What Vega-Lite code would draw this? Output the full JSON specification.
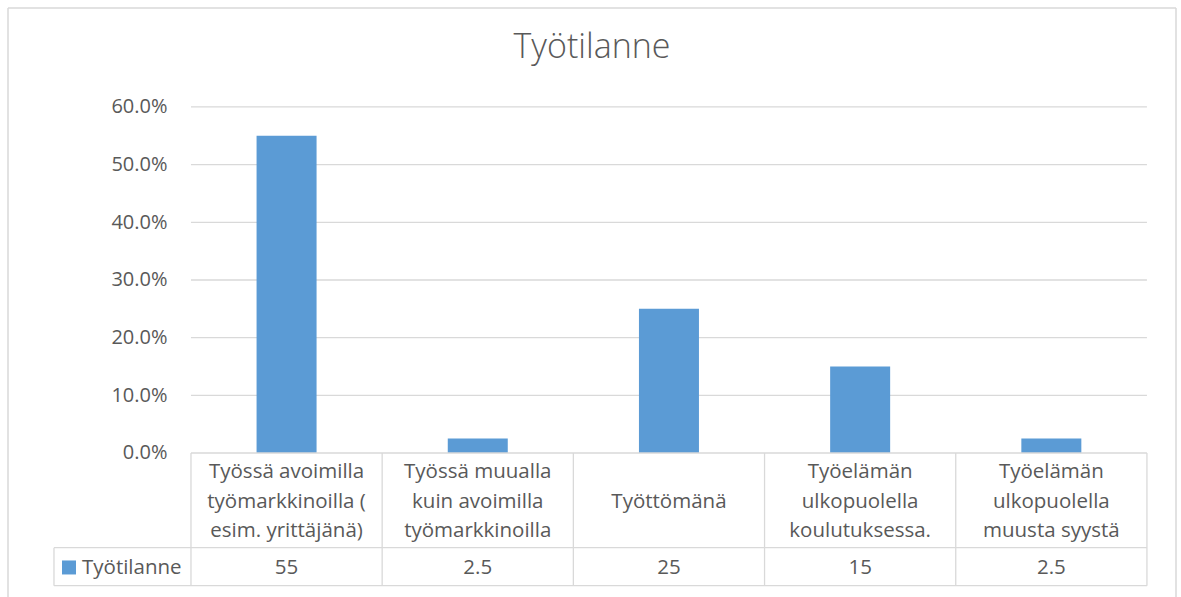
{
  "$schema": "https://vega.github.io/schema/vega-lite/v6.json",
  "width": 1168,
  "height": 589,
  "autosize": {"type": "none"},
  "padding": {"left": 8, "top": 8, "right": 5, "bottom": 0},
  "background": "white",
  "config": {"view": {"stroke": null}, "font": "Open Sans", "text": {"font": "Open Sans"}},
  "title": {"text": "Työtilanne", "offset": -85, "baseline": "alphabetic", "fontSize": 34, "fontWeight": 300, "color": "#595959", "anchor": "middle", "font": "Open Sans"},
  "datasets": {
    "main": [
      {"i": 0, "label": "Työssä avoimilla\ntyömarkkinoilla (\nesim. yrittäjänä)", "value": 0.55, "shown": "55"},
      {"i": 1, "label": "Työssä muualla\nkuin avoimilla\ntyömarkkinoilla", "value": 0.025, "shown": "2.5"},
      {"i": 2, "label": "Työttömänä", "value": 0.25, "shown": "25"},
      {"i": 3, "label": "Työelämän\nulkopuolella\nkoulutuksessa.", "value": 0.15, "shown": "15"},
      {"i": 4, "label": "Työelämän\nulkopuolella\nmuusta syystä", "value": 0.025, "shown": "2.5"}
    ],
    "grid": [{"t": 0.1}, {"t": 0.2}, {"t": 0.3}, {"t": 0.4}, {"t": 0.5}, {"t": 0.6}],
    "edges": [{"b": -0.5}, {"b": 0.5}, {"b": 1.5}, {"b": 2.5}, {"b": 3.5}, {"b": 4.5}],
    "series": [{"name": "Työtilanne"}],
    "one": [{}]
  },
  "layer": [
    {
      "data": {"name": "grid"},
      "mark": {"type": "rule", "color": "#d9d9d9", "strokeWidth": 1.3},
      "encoding": {
        "y": {"field": "t", "type": "quantitative", "scale": {"domain": [-0.2497, 0.7716], "nice": false, "zero": false, "padding": 0},
          "axis": {"values": [0, 0.1, 0.2, 0.3, 0.4, 0.5, 0.6], "format": ".1%", "domain": false, "ticks": false, "grid": false, "title": null, "offset": -183, "labelPadding": 24, "labelFontSize": 20, "labelColor": "#595959", "labelFont": "Open Sans", "labelBaseline": "middle"}},
        "x": {"datum": -0.5, "type": "quantitative", "scale": {"domain": [-1.457, 4.652], "nice": false, "zero": false, "padding": 0}, "axis": null},
        "x2": {"datum": 4.5}
      }
    },
    {
      "data": {"name": "main"},
      "mark": {"type": "bar", "orient": "vertical", "width": 60, "color": "#5b9bd5"},
      "encoding": {
        "x": {"field": "i", "type": "quantitative"},
        "y": {"field": "value", "type": "quantitative", "stack": null},
        "y2": {"datum": 0}
      }
    },
    {
      "data": {"name": "edges"},
      "mark": {"type": "rule", "color": "#d9d9d9", "strokeWidth": 1.3},
      "encoding": {
        "x": {"field": "b", "type": "quantitative"},
        "y": {"datum": 0},
        "y2": {"datum": -0.2301}
      }
    },
    {
      "data": {"name": "one"},
      "mark": {"type": "rule", "color": "#d9d9d9", "strokeWidth": 1.3},
      "encoding": {"x": {"datum": -0.5}, "x2": {"datum": 4.5}, "y": {"datum": 0}}
    },
    {
      "data": {"name": "one"},
      "mark": {"type": "rule", "color": "#d9d9d9", "strokeWidth": 1.3},
      "encoding": {"x": {"datum": -1.2165}, "x2": {"datum": 4.5}, "y": {"datum": -0.1642}}
    },
    {
      "data": {"name": "one"},
      "mark": {"type": "rule", "color": "#d9d9d9", "strokeWidth": 1.3},
      "encoding": {"x": {"datum": -1.2165}, "x2": {"datum": 4.5}, "y": {"datum": -0.2301}}
    },
    {
      "data": {"name": "one"},
      "mark": {"type": "rule", "color": "#d9d9d9", "strokeWidth": 1.3},
      "encoding": {"x": {"datum": -1.2165}, "y": {"datum": -0.1642}, "y2": {"datum": -0.2301}}
    },
    {
      "data": {"name": "main"},
      "transform": [{"filter": "datum.i != 2"}],
      "mark": {"type": "text", "baseline": "alphabetic", "align": "center", "fontSize": 20.5, "lineHeight": 29.5, "color": "#595959", "lineBreak": "\n"},
      "encoding": {
        "x": {"field": "i", "type": "quantitative"},
        "y": {"datum": -0.0434},
        "text": {"field": "label"}
      }
    },
    {
      "data": {"name": "main"},
      "transform": [{"filter": "datum.i == 2"}],
      "mark": {"type": "text", "baseline": "alphabetic", "align": "center", "fontSize": 20.5, "color": "#595959"},
      "encoding": {
        "x": {"field": "i", "type": "quantitative"},
        "y": {"datum": -0.0954},
        "text": {"field": "label"}
      }
    },
    {
      "data": {"name": "main"},
      "mark": {"type": "text", "baseline": "alphabetic", "align": "center", "fontSize": 20.5, "color": "#595959"},
      "encoding": {
        "x": {"field": "i", "type": "quantitative"},
        "y": {"datum": -0.209},
        "text": {"field": "shown"}
      }
    },
    {
      "data": {"name": "series"},
      "mark": {"type": "point", "shape": "square", "filled": true, "opacity": 1, "color": "#5b9bd5", "size": 196},
      "encoding": {"x": {"datum": -1.138}, "y": {"datum": -0.1985}}
    },
    {
      "data": {"name": "series"},
      "mark": {"type": "text", "baseline": "alphabetic", "align": "left", "fontSize": 20.5, "color": "#595959"},
      "encoding": {"x": {"datum": -1.07}, "y": {"datum": -0.209}, "text": {"field": "name"}}
    },
    {
      "data": {"name": "one"},
      "mark": {"type": "rule", "color": "#d9d9d9", "strokeWidth": 1.5},
      "encoding": {"x": {"datum": -1.457}, "x2": {"datum": 4.652}, "y": {"datum": 0.7716}}
    },
    {
      "data": {"name": "one"},
      "mark": {"type": "rule", "color": "#d9d9d9", "strokeWidth": 1.5},
      "encoding": {"x": {"datum": -1.457}, "y": {"datum": 0.7716}, "y2": {"datum": -0.2497}}
    },
    {
      "data": {"name": "one"},
      "mark": {"type": "rule", "color": "#d9d9d9", "strokeWidth": 1.5},
      "encoding": {"x": {"datum": 4.652}, "y": {"datum": 0.7716}, "y2": {"datum": -0.2497}}
    }
  ]
}
